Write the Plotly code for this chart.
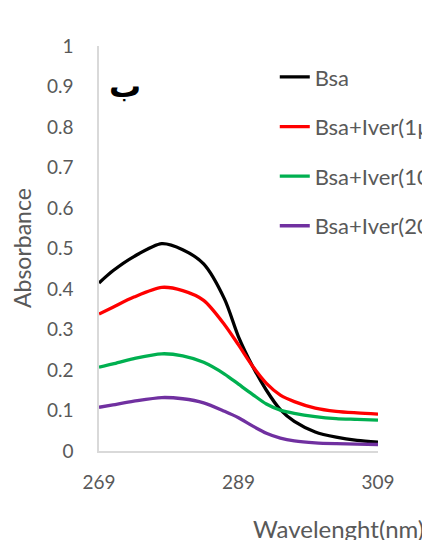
import plotly.graph_objects as go

wavelength = [269, 271, 274, 278, 281, 284, 287, 289, 291, 293, 295, 297, 300, 303, 306, 309]
bsa = [0.415, 0.445, 0.480, 0.512, 0.497, 0.462, 0.375, 0.282, 0.210, 0.150, 0.102, 0.073, 0.047, 0.034, 0.026, 0.022]
bsa_iver1 = [0.338, 0.355, 0.380, 0.404, 0.396, 0.372, 0.312, 0.262, 0.210, 0.167, 0.138, 0.122, 0.106, 0.098, 0.094, 0.091]
bsa_iver10 = [0.207, 0.215, 0.228, 0.240, 0.235, 0.219, 0.190, 0.165, 0.140, 0.116, 0.101, 0.093, 0.085, 0.080, 0.078, 0.076]
bsa_iver20 = [0.108, 0.114, 0.123, 0.132, 0.129, 0.119, 0.098, 0.082, 0.062, 0.044, 0.032, 0.025, 0.020, 0.018, 0.017, 0.016]

series_names = ["Bsa", "Bsa+Iver(1µM)", "Bsa+Iver(10µM)", "Bsa+Iver(20µM)"]
series_values = [bsa, bsa_iver1, bsa_iver10, bsa_iver20]
colors = ["#000000", "#ff0000", "#00b050", "#7030a0"]

x_ticks = [269, 289, 309]
y_ticks = [0, 0.1, 0.2, 0.3, 0.4, 0.5, 0.6, 0.7, 0.8, 0.9, 1]
y_tick_text = ["0", "0.1", "0.2", "0.3", "0.4", "0.5", "0.6", "0.7", "0.8", "0.9", "1"]

FONT = "Lato"
GREY = "#595959"

fig = go.Figure()
for i, (name, vals, col) in enumerate(zip(series_names, series_values, colors)):
    fig.add_trace(go.Scatter(
        x=wavelength, y=vals, name=name, mode="lines",
        line=dict(color=col, width=3.3, shape="spline", smoothing=0.8),
        legendgroup=f"g{i}",
    ))

fig.update_layout(
    width=430, height=540,
    margin=dict(l=91, r=60, t=38, b=97, autoexpand=False),
    paper_bgcolor="white", plot_bgcolor="white",
    font=dict(family=FONT, color=GREY, size=19),
    showlegend=True,
    legend=dict(
        x=0.63, xanchor="left", y=0.975, yanchor="top",
        font=dict(family=FONT, size=22, color=GREY),
        tracegroupgap=18, bgcolor="rgba(0,0,0,0)",
    ),
    xaxis=dict(
        range=[269, 309], tickvals=x_ticks, ticktext=[str(t) for t in x_ticks],
        showgrid=False, zeroline=False, showline=True, linecolor="#d9d9d9", linewidth=1.5,
        ticks="", ticklabelstandoff=13, tickfont=dict(size=19, color=GREY),
    ),
    yaxis=dict(
        range=[0, 1], tickvals=y_ticks, ticktext=y_tick_text,
        showgrid=False, zeroline=False, showline=True, linecolor="#d9d9d9", linewidth=1.5,
        ticks="", ticklabelstandoff=20, tickfont=dict(size=19, color=GREY),
    ),
    annotations=[
        dict(text="<b>ب</b>", x=125, y=86, xref="paper", yref="paper", showarrow=False,
             xanchor="center", yanchor="middle",
             font=dict(size=32, color="#000000", family="DejaVu Sans")),
        dict(text="Absorbance", x=22, y=248, xref="paper", yref="paper", showarrow=False,
             xanchor="center", yanchor="middle",
             textangle=-90, font=dict(size=23, color=GREY, family=FONT)),
        dict(text="Wavelenght(nm)", x=426, y=528, xref="paper", yref="paper", showarrow=False,
             xanchor="right", yanchor="middle", font=dict(size=24, color=GREY, family=FONT)),
    ],
)

# convert page-pixel positions of annotations to paper coordinates
# (plot area spans page x 99..378 and page y 46..451)
pw, ph = 279, 405
for ann in fig.layout.annotations:
    ann.x = (ann.x - 99) / pw
    ann.y = (451 - ann.y) / ph

fig.write_html("out.html")
